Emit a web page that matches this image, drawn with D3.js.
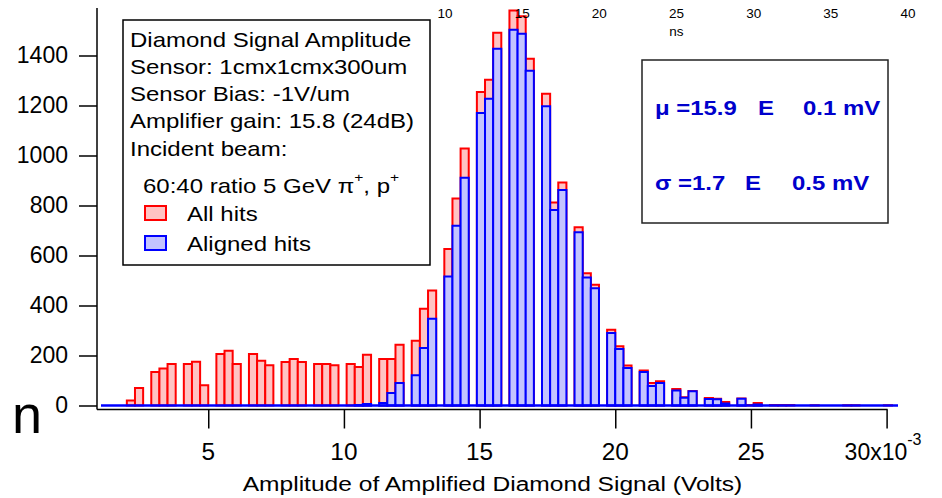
<!DOCTYPE html>
<html>
<head>
<meta charset="utf-8">
<script src="https://cdn.jsdelivr.net/npm/d3@7"></script>
<style>
  html, body { margin: 0; padding: 0; background: #fff; }
  svg { display: block; }
  text { font-family: "Liberation Sans", Arial, Helvetica, sans-serif; }
</style>
</head>
<body>
<svg id="chart" width="942" height="498"></svg>
<script>
// Histogram bins: lower edge of each filled bin (mV) and bin width (mV)
const binLo = [2.0, 2.3, 2.9, 3.2, 3.5, 4.1, 4.4, 4.7, 5.3, 5.6, 5.9, 6.5, 6.8, 7.1,
  7.7, 8.0, 8.3, 8.9, 9.2, 9.5, 10.1, 10.4, 10.7, 11.3, 11.6, 11.9, 12.5, 12.8, 13.1,
  13.7, 14.0, 14.3, 14.9, 15.2, 15.5, 16.1, 16.4, 16.7, 17.3, 17.6, 17.9, 18.5, 18.8,
  19.1, 19.7, 20.0, 20.3, 20.9, 21.2, 21.5, 22.1, 22.4, 22.7, 23.3, 23.6, 23.9, 24.5,
  24.8, 25.1, 25.7, 26.0, 26.3, 26.9, 27.2, 27.5, 28.1, 28.4, 28.7, 29.3, 29.6, 29.9];
const binWidth = 0.3;

// Counts per bin: all hits
const allHits = [20, 70, 134, 148, 166, 166, 175, 81, 206, 219, 166, 206, 179, 161,
  174, 186, 174, 166, 166, 161, 166, 154, 203, 186, 186, 243, 259, 387, 460,
  626, 828, 1028, 1254, 1303, 1491, 1580, 1557, 1387, 1247, 812, 892, 713, 529,
  483, 303, 237, 160, 140, 90, 97, 66, 33, 58, 30, 27, 14, 28,
  2, 10, 2, 2, 2, 0, 1, 0, 0, 1, 1, 0, 0, 1];

// Counts per bin: aligned hits
const alignedHits = [0, 0, 0, 0, 0, 0, 0, 0, 0, 0, 0, 0, 0, 0,
  0, 0, 0, 0, 0, 0, 0, 2, 6, 10, 50, 90, 121, 230, 347,
  516, 719, 911, 1170, 1227, 1427, 1503, 1487, 1339, 1197, 782, 862, 693, 512,
  469, 290, 226, 150, 134, 78, 90, 60, 31, 57, 26, 25, 8, 27,
  0, 4, 0, 0, 0, 0, 0, 0, 0, 0, 0, 0, 0, 0];

// Axis ticks
const xTicks = [5, 10, 15, 20, 25, 30];
const yTicks = [0, 200, 400, 600, 800, 1000, 1200, 1400];
const nsTicks = [10, 15, 20, 25, 30, 35, 40];

// Annotation text
const infoLines = ["Diamond Signal Amplitude", "Sensor: 1cmx1cmx300um",
  "Sensor Bias: -1V/um", "Amplifier gain: 15.8 (24dB)", "Incident beam:"];
const legendLabels = ["All hits", "Aligned hits"];
const fitLines = [["μ =15.9", "E", "0.1 mV"], ["σ =1.7", "E", "0.5 mV"]];

const svg = d3.select("#chart");
svg.append("rect").attr("width", 942).attr("height", 498).attr("fill", "#fff");

const x = d3.scaleLinear().domain([0.9, 30.42]).range([97, 898]);
const y = d3.scaleLinear().domain([0, 1590]).range([405.5, 8]);
const ns = d3.scaleLinear().domain([10, 40]).range([445, 908]);
const axisY = 409.5;

const FONT = '"Liberation Sans", Arial, Helvetica, sans-serif';

// text drawn with a horizontal stretch factor
function wideText(parent, px, py, str, size, sx, anchor) {
  return parent.append("text")
    .attr("transform", `translate(${px},${py}) scale(${sx},1)`)
    .attr("font-size", size)
    .attr("text-anchor", anchor || "start")
    .text(str);
}

const RED = "#ff0000", RED_FILL = "#ffc4c4";
const BLUE = "#0000ff", BLUE_FILL = "#c4c4ff";

const bins = binLo.map((lo, i) => ({ lo, all: allHits[i], aligned: alignedHits[i] }));

// All-hits bars
svg.append("g").selectAll("rect").data(bins).join("rect")
  .attr("x", d => x(d.lo))
  .attr("width", d => x(d.lo + binWidth) - x(d.lo))
  .attr("y", d => y(d.all))
  .attr("height", d => y(0) - y(d.all))
  .attr("fill", RED_FILL).attr("stroke", RED).attr("stroke-width", 2);

// Aligned-hits bars
svg.append("g").selectAll("rect").data(bins).join("rect")
  .attr("x", d => x(d.lo))
  .attr("width", d => x(d.lo + binWidth) - x(d.lo))
  .attr("y", d => y(d.aligned))
  .attr("height", d => y(0) - y(d.aligned))
  .attr("fill", BLUE_FILL).attr("stroke", BLUE).attr("stroke-width", 2);

// zero line of the aligned trace
svg.append("line")
  .attr("x1", x.range()[0] + 4).attr("x2", x.range()[1])
  .attr("y1", y(0)).attr("y2", y(0))
  .attr("stroke", BLUE).attr("stroke-width", 2.5);

// Left axis
const yAxis = d3.axisLeft(y).tickValues(yTicks).tickSize(18).tickPadding(11).tickFormat(d3.format("d"));
const gy = svg.append("g").attr("transform", `translate(${x.range()[0]},0)`).call(yAxis);
gy.select(".domain").remove();
gy.selectAll(".tick line").attr("stroke", "#000").attr("stroke-width", 1.5);
gy.selectAll(".tick text").attr("font-size", 23).attr("font-family", FONT).attr("fill", "#000");
svg.append("line").attr("x1", x.range()[0]).attr("x2", x.range()[0])
  .attr("y1", y.range()[1]).attr("y2", axisY).attr("stroke", "#000").attr("stroke-width", 1.5);

// Bottom axis
const xAxis = d3.axisBottom(x).tickValues(xTicks).tickSize(19).tickFormat("");
const gx = svg.append("g").attr("transform", `translate(0,${axisY})`).call(xAxis);
gx.select(".domain").remove();
gx.selectAll(".tick line").attr("stroke", "#000").attr("stroke-width", 1.5);
svg.append("line").attr("x1", x.range()[0]).attr("x2", x(30) + 1)
  .attr("y1", axisY).attr("y2", axisY).attr("stroke", "#000").attr("stroke-width", 1.5);

const xl = svg.append("g").attr("fill", "#000");
xTicks.forEach(t => {
  if (t === 30) {
    const tx = xl.append("text").attr("x", x(t) - 42).attr("y", 460).attr("font-size", 23);
    tx.append("tspan").text("30x10");
    tx.append("tspan").attr("dy", -15).attr("font-size", 16).text("-3");
  } else {
    wideText(xl, x(t), 460, String(t), 23, 1.06, "middle");
  }
});

// x title
wideText(svg, 492.5, 491, "Amplitude of Amplified Diamond Signal (Volts)", 21, 1.17, "middle");

// Top time axis labels (ns)
const gt = svg.append("g");
nsTicks.forEach(t => {
  gt.append("text").attr("x", ns(t)).attr("y", 17.5).attr("font-size", 13.5)
    .attr("text-anchor", "middle").text(t);
});
gt.append("text").attr("x", ns(25)).attr("y", 36).attr("font-size", 13.5)
  .attr("text-anchor", "middle").text("ns");

// partial label at the left margin
svg.append("text").attr("x", 12).attr("y", 433).attr("font-size", 54).text("n");

// Info / legend box
const lg = svg.append("g");
lg.append("rect").attr("x", 123).attr("y", 20).attr("width", 307).attr("height", 245)
  .attr("fill", "#fff").attr("stroke", "#000").attr("stroke-width", 1.5);
const infoY = [47, 74, 101, 128, 156];
infoLines.forEach((s, i) => wideText(lg, 130, infoY[i], s, 20, 1.2));

const beam = lg.append("text").attr("transform", "translate(143,193) scale(1.2,1)").attr("font-size", 20);
beam.append("tspan").text("60:40 ratio 5 GeV  π");
beam.append("tspan").attr("dy", -11).attr("font-size", 13).text("+");
beam.append("tspan").attr("dy", 11).text(", p");
beam.append("tspan").attr("dy", -11).attr("font-size", 13).text("+");

const swatchY = [206, 236];
const swatchColors = [[RED_FILL, RED], [BLUE_FILL, BLUE]];
legendLabels.forEach((s, i) => {
  lg.append("rect").attr("x", 145).attr("y", swatchY[i]).attr("width", 21).attr("height", 14)
    .attr("fill", swatchColors[i][0]).attr("stroke", swatchColors[i][1]).attr("stroke-width", 2);
  wideText(lg, 187, swatchY[i] + 15, s, 20, 1.2);
});

// Fit results box
const fb = svg.append("g").attr("fill", "#0000cc").attr("font-weight", "bold");
fb.append("rect").attr("x", 642).attr("y", 60).attr("width", 246).attr("height", 163)
  .attr("fill", "#fff").attr("stroke", "#222").attr("stroke-width", 1.5);
const fitY = [115, 190];
const fitX = [[655, 758, 803], [655, 745, 792]];
fitLines.forEach((parts, r) => {
  parts.forEach((p, c) => wideText(fb, fitX[r][c], fitY[r], p, 21, 1.14));
});
</script>
</body>
</html>
